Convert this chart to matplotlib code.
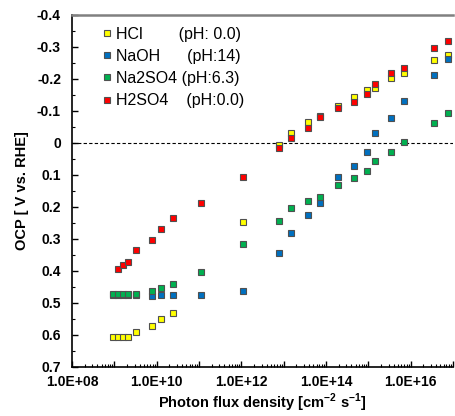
import numpy as np
import matplotlib
matplotlib.use("Agg")
import matplotlib.pyplot as plt
from matplotlib.ticker import FixedLocator, FuncFormatter, MultipleLocator, LogLocator, NullFormatter

plt.rcParams['font.family'] = ['Liberation Sans', 'DejaVu Sans']

# ---- data ----
x_hcl = [9.5e8, 1.25e9, 1.64e9, 2.16e9, 3.23e9, 7.65e9, 1.24e10, 2.43e10, 1.1e12, 7.7e12, 1.52e13,
         3.7e13, 7.25e13, 1.87e14, 4.6e14, 9.1e14, 1.41e15, 3.4e15, 6.9e15, 3.65e16, 7.5e16]
y_hcl = [0.605, 0.605, 0.605, 0.605, 0.590, 0.571, 0.551, 0.532, 0.248, 0.005, -0.030,
         -0.067, -0.084, -0.115, -0.144, -0.167, -0.173, -0.202, -0.220, -0.258, -0.275]

x_naoh = [9.5e8, 1.25e9, 1.64e9, 2.16e9, 3.23e9, 7.65e9, 1.24e10, 2.43e10, 1.12e11, 1.1e12, 7.7e12,
          1.52e13, 3.7e13, 7.25e13, 1.87e14, 4.6e14, 9.1e14, 1.41e15, 3.4e15, 6.9e15, 3.65e16, 7.5e16]
y_naoh = [0.474, 0.474, 0.474, 0.474, 0.474, 0.478, 0.476, 0.475, 0.474, 0.462, 0.345,
          0.282, 0.224, 0.188, 0.107, 0.071, 0.027, -0.032, -0.077, -0.132, -0.213, -0.262]

x_na2so4 = [9.5e8, 1.25e9, 1.64e9, 2.16e9, 3.23e9, 7.65e9, 1.24e10, 2.43e10, 1.12e11, 1.1e12, 7.7e12,
            1.52e13, 3.7e13, 7.25e13, 1.87e14, 4.6e14, 9.1e14, 1.41e15, 3.4e15, 6.9e15, 3.65e16, 7.5e16]
y_na2so4 = [0.472, 0.472, 0.472, 0.472, 0.472, 0.462, 0.454, 0.440, 0.404, 0.315, 0.244,
            0.204, 0.180, 0.168, 0.131, 0.110, 0.087, 0.056, 0.027, -0.004, -0.063, -0.093]

x_h2so4 = [1.25e9, 1.64e9, 2.16e9, 3.23e9, 7.65e9, 1.24e10, 2.43e10, 1.12e11, 1.1e12, 7.7e12,
           1.52e13, 3.7e13, 7.25e13, 1.87e14, 4.6e14, 9.1e14, 1.41e15, 3.4e15, 6.9e15, 3.65e16, 7.5e16]
y_h2so4 = [0.395, 0.381, 0.373, 0.334, 0.302, 0.269, 0.234, 0.187, 0.105, 0.017, -0.015,
           -0.048, -0.080, -0.110, -0.129, -0.152, -0.184, -0.218, -0.233, -0.296, -0.320]

labels = ["HCl        (pH: 0.0)", "NaOH      (pH:14)", "Na2SO4 (pH:6.3)", "H2SO4    (pH:0.0)"]
colors = ["#FFFF00", "#0070C0", "#00B050", "#FF0000"]

y_ticks = [-0.4, -0.3, -0.2, -0.1, 0.0, 0.1, 0.2, 0.3, 0.4, 0.5, 0.6, 0.7]
x_label_exps = [8, 10, 12, 14, 16]

# ---- figure ----
fig = plt.figure(figsize=(4.55, 4.16), dpi=100)
ax = fig.add_axes([72/455, 1-367/416, (453-72)/455, (367-15)/416])

series = [(x_hcl, y_hcl), (x_naoh, y_naoh), (x_na2so4, y_na2so4), (x_h2so4, y_h2so4)]
for (xs, ys), lab, c in zip(series, labels, colors):
    ax.plot(xs, ys, linestyle='none', marker='s', markersize=5.0, markerfacecolor=c,
            markeredgecolor='#505050', markeredgewidth=0.8, label=lab)

ax.axhline(0, color='black', linestyle=(0, (3, 2)), linewidth=0.8, zorder=1)

ax.set_xscale('log')
ax.set_xlim(1e8, 1e17)
ax.set_ylim(0.7, -0.4)

ax.xaxis.set_major_locator(FixedLocator([10.0**e for e in range(8, 18)]))
ax.xaxis.set_major_formatter(FuncFormatter(
    lambda v, p: ("1.0E+%02d" % int(round(np.log10(v)))) if int(round(np.log10(v))) in x_label_exps else ""))
ax.xaxis.set_minor_locator(LogLocator(base=10, subs=np.arange(2, 10), numticks=100))
ax.xaxis.set_minor_formatter(NullFormatter())

ax.yaxis.set_major_locator(FixedLocator(y_ticks))
ax.yaxis.set_major_formatter(FuncFormatter(lambda v, p: "0" if abs(v) < 1e-9 else "%.1f" % v))
ax.yaxis.set_minor_locator(MultipleLocator(0.05))

ax.tick_params(axis='both', which='major', direction='in', length=4, width=1.0, labelsize=10)
ax.tick_params(axis='both', which='minor', direction='in', length=2.5, width=0.8)
ax.tick_params(axis='y', which='major', pad=8)
ax.tick_params(axis='x', which='major', pad=6)
for t in ax.get_xticklabels() + ax.get_yticklabels():
    t.set_fontweight('bold')

ax.spines['right'].set_visible(False)
ax.spines['top'].set_color('#808080')
ax.spines['top'].set_linewidth(1.8)
ax.spines['left'].set_linewidth(1.2)
ax.spines['bottom'].set_linewidth(1.2)

ax.set_xlabel("Photon flux density [cm$^{\\mathregular{-2}}$ s$^{\\mathregular{-1}}$]", fontsize=10.5,
              fontweight='bold', labelpad=2)
ax.set_ylabel("OCP [ V vs. RHE]", fontsize=10.5, fontweight='bold', labelpad=6)

leg = ax.legend(loc='upper left', bbox_to_anchor=(0.065, 0.985), frameon=False, fontsize=11.5,
                handlelength=0.5, handletextpad=0.3, labelspacing=0.45, borderaxespad=0.0)

fig.savefig("out.png", dpi=100)
